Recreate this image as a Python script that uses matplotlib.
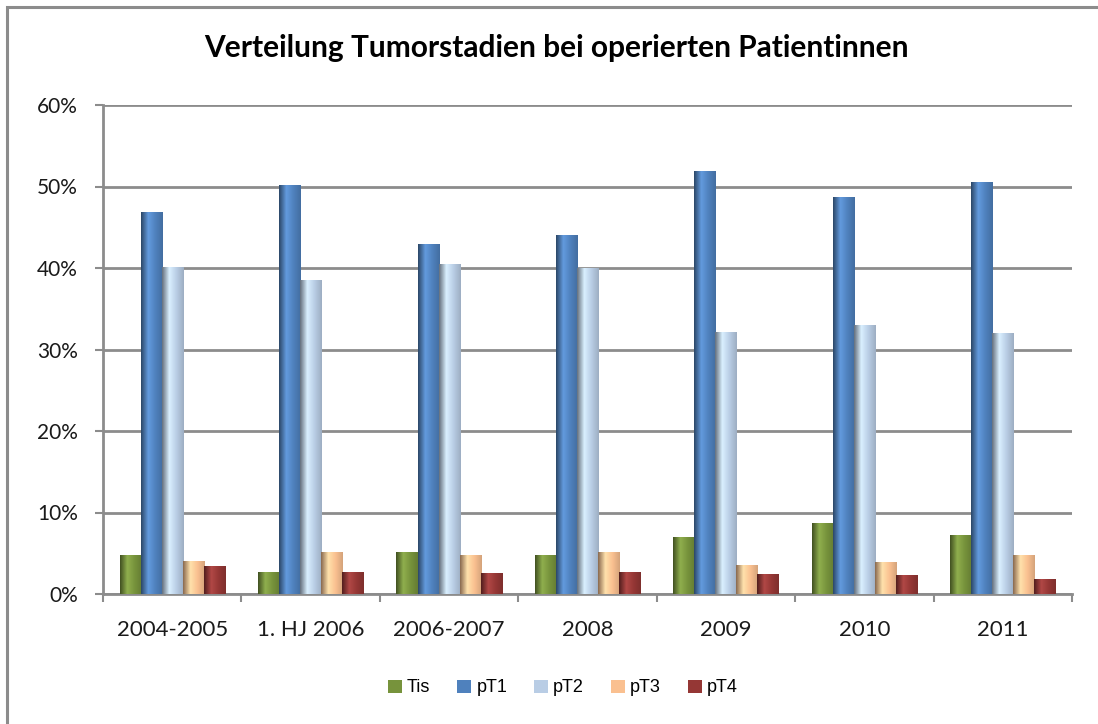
import matplotlib
matplotlib.use("Agg")
import matplotlib.pyplot as plt
import numpy as np
from matplotlib.colors import LinearSegmentedColormap, to_rgb
from matplotlib.patches import Rectangle
from matplotlib.ticker import PercentFormatter

categories = ["2004-2005", "1. HJ 2006", "2006-2007", "2008", "2009", "2010", "2011"]
series = ["Tis", "pT1", "pT2", "pT3", "pT4"]
tis = [4.8, 2.7, 5.1, 4.8, 7.0, 8.7, 7.2]
pt1 = [46.9, 50.2, 43.0, 44.0, 51.9, 48.7, 50.6]
pt2 = [40.1, 38.5, 40.5, 40.0, 32.1, 33.0, 32.0]
pt3 = [4.0, 5.2, 4.8, 5.2, 3.6, 3.9, 4.8]
pt4 = [3.4, 2.7, 2.6, 2.7, 2.4, 2.3, 1.8]
colors = ["#77933C", "#4F81BD", "#B9CDE5", "#FAC090", "#953735"]

plt.rcParams['font.family'] = ['Lato', 'DejaVu Sans']

fig = plt.figure(figsize=(10.98, 7.24), dpi=100)
fig.patches.append(Rectangle((7 / 1098, -0.1), 1.2, 1 - 7 / 724 + 0.1, transform=fig.transFigure,
                             fill=False, edgecolor="#8c8c8c", linewidth=2.2))
ax = fig.add_axes([103 / 1098, 1 - 594 / 724, (1072 - 103) / 1098, (594 - 105) / 724])


def bar_cmap(c):
    r = np.array(to_rgb(c))
    dark = r * 0.55
    light = np.clip(r * 1.12 + 0.04, 0, 1)
    return LinearSegmentedColormap.from_list("g", [dark, light, r, r * 0.85])


data = [tis, pt1, pt2, pt3, pt4]
x = np.arange(len(categories))
w = 0.152
grad = np.linspace(0, 1, 64).reshape(1, -1)
for i, (name, vals, col) in enumerate(zip(series, data, colors)):
    bars = ax.bar(x + (i - 2) * w, vals, w, color=col, label=name, zorder=3, linewidth=0)
    cm = bar_cmap(col)
    for rect in bars:
        bx, bw, bh = rect.get_x(), rect.get_width(), rect.get_height()
        im = ax.imshow(grad, extent=[bx, bx + bw, 0, bh], aspect="auto", cmap=cm, zorder=4)
        im.set_clip_path(rect)

ax.set_xlim(-0.5, len(categories) - 0.5)
ax.set_ylim(0, 60)
ax.set_yticks(range(0, 61, 10))
ax.yaxis.set_major_formatter(PercentFormatter(decimals=0))
ax.set_xticks(x)
ax.set_xticklabels(categories)
ax.set_xticks(np.arange(-0.5, len(categories), 1), minor=True)
ax.tick_params(axis="x", which="major", length=0, pad=19, labelsize=16, labelcolor="#1a1a1a")
ax.tick_params(axis="x", which="minor", length=6, width=1.5, color="#8c8c8c", direction="out")
ax.tick_params(axis="y", length=6, width=1.5, color="#8c8c8c", pad=12, labelsize=15, labelcolor="#1a1a1a")
ax.grid(axis="y", color="#8c8c8c", linewidth=2, zorder=0)
ax.set_axisbelow(True)
for s in ["top", "right"]:
    ax.spines[s].set_visible(False)
for s in ["left", "bottom"]:
    ax.spines[s].set_color("#8c8c8c")
    ax.spines[s].set_linewidth(2)

fig.text(556 / 1098, 1 - 48 / 724, "Verteilung Tumorstadien bei operierten Patientinnen",
         ha="center", va="center", fontsize=21.5, fontweight="bold")
ax.legend(loc="center", bbox_to_anchor=(563 / 1098, 1 - 688 / 724), bbox_transform=fig.transFigure,
          ncol=5, frameon=False, handlelength=0.75, handleheight=0.75, handletextpad=0.3,
          columnspacing=1.5, prop={"family": "Liberation Sans", "size": 13})

fig.savefig("out.png", dpi=100, facecolor="white")
